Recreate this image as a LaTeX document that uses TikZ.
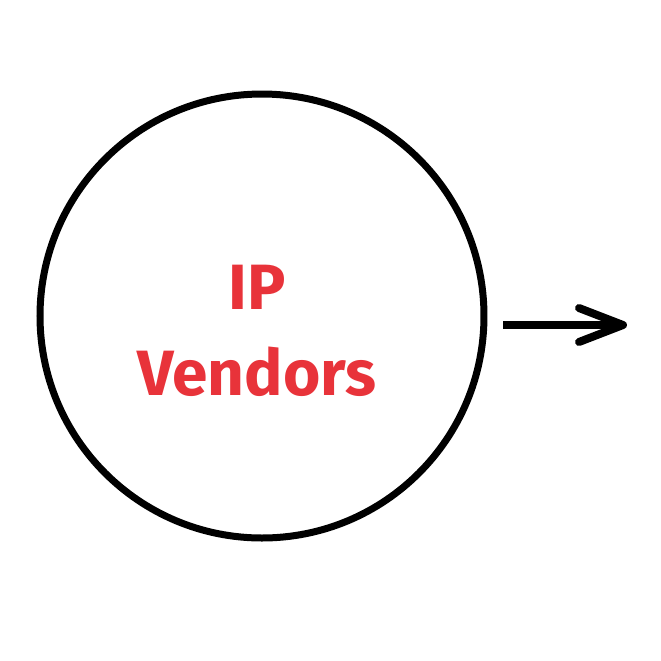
\documentclass[tikz,border=0pt]{standalone}
\usepackage{fontspec}
\setsansfont{Fira Sans}
\usetikzlibrary{arrows.meta}
\definecolor{vendorred}{HTML}{E8333A}
\tikzset{
  ring/.style={draw,circle,line width=3.5pt,minimum size=444pt*0.5,inner sep=0pt},
  redtext/.style={text=vendorred,font=\sffamily\bfseries\fontsize{32}{43}\selectfont,align=center},
  flow/.style={line width=4pt,-{Straight Barb[length=22pt,width=17pt,line width=4pt,round]}}
}
\begin{document}
\begin{tikzpicture}[x=0.5pt,y=-0.5pt]
\useasboundingbox (0,0) rectangle (661,661);
% circle and its label
\node[ring] (circ) at (262,316) {};
\node[redtext] (label) at (257,331) {IP\\Vendors};

% outgoing arrow
\coordinate (tip) at (627,325);
\draw[flow] ([xshift=8pt]circ.east |- tip) -- (tip);
\end{tikzpicture}
\end{document}
